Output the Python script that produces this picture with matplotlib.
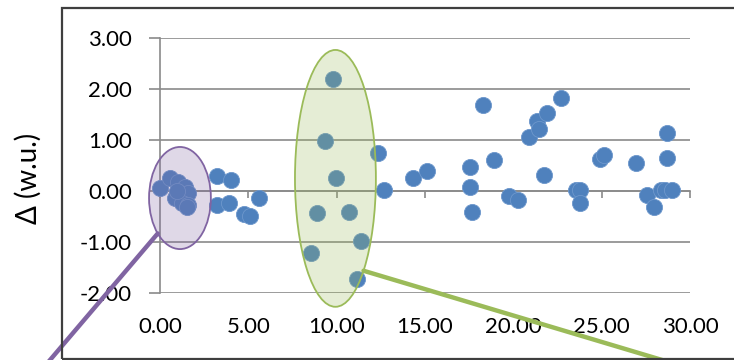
import numpy as np
import matplotlib.pyplot as plt
from matplotlib.colors import to_rgb
from matplotlib.patches import Ellipse, Rectangle

plt.rcParams['font.family'] = ['Lato', 'DejaVu Sans']

# Measured deviations
x_vals = [0.00, 0.57, 1.04, 1.41, 1.60, 0.85, 1.23, 1.60, 0.94, 1.50,
          3.20, 4.02, 3.25, 3.92, 4.77, 5.09, 5.62,
          9.77, 9.32, 9.94, 8.90, 10.72, 11.38, 8.53, 11.13,
          12.36, 12.68, 14.34, 15.09,
          18.30, 17.55, 17.55, 17.64, 18.92, 19.77, 20.28, 20.90, 21.32,
          21.47, 21.89, 22.68, 21.74, 23.55, 23.77, 23.77,
          24.90, 25.13, 26.94, 28.71, 28.71, 27.55, 27.96, 28.34, 28.60, 28.96]
y_vals = [0.05, 0.25, 0.18, 0.08, -0.05, -0.14, -0.24, -0.27, -0.01, -0.32,
          0.29, 0.22, -0.27, -0.23, -0.46, -0.49, -0.13,
          2.19, 0.98, 0.26, -0.44, -0.41, -0.98, -1.21, -1.73,
          0.75, 0.02, 0.25, 0.39,
          1.68, 0.46, 0.07, -0.42, 0.61, -0.10, -0.18, 1.06, 1.36,
          1.21, 1.52, 1.81, 0.31, 0.02, 0.02, -0.23,
          0.62, 0.70, 0.54, 1.14, 0.65, -0.08, -0.32, 0.02, 0.02, 0.02]

x_ticks = [0, 5, 10, 15, 20, 25, 30]
y_ticks = [-2, -1, 0, 1, 2, 3]

# highlighted groups: (center x, center y, width, height, colour)
groups = [
    (1.13, -0.14, 3.5, 2.0, '#8064a2'),
    (9.93, 0.245, 4.58, 5.03, '#9bbb59'),
]
# angle on the ellipse where the callout leaves, and where it ends (figure px)
callouts = [(224, (33, 380)), (-46, (729, 380))]

W, H = 734, 360
fig = plt.figure(figsize=(W / 100, H / 100), dpi=100)

# outer frame
fig.patches.append(Rectangle((62 / W, 1.5 / H), 1.2, (H - 9) / H,
                             transform=fig.transFigure, fill=False,
                             ec='#3f3f3f', lw=1.6))

ax = fig.add_axes([160 / W, 1 - 293 / H, 530 / W, 255.3 / H])
grid_c = '#8a8a8a'

ax.scatter(x_vals, y_vals, s=135, color='#4f81bd', edgecolors='#6d97cc',
           linewidths=0.6, zorder=3, clip_on=False)

for (cx, cy, w, h, c), (ang, end) in zip(groups, callouts):
    ax.add_patch(Ellipse((cx, cy), w, h, facecolor=(*to_rgb(c), 0.25),
                         edgecolor=c, lw=1.3, zorder=4, clip_on=False))
    t = np.deg2rad(ang)
    sx, sy = cx + w / 2 * np.cos(t), cy + h / 2 * np.sin(t)
    ax.annotate('', xy=(sx, sy), xycoords='data',
                xytext=(end[0] / W, 1 - end[1] / H), textcoords='figure fraction',
                arrowprops=dict(arrowstyle='-', color=c, lw=3.2,
                                shrinkA=0, shrinkB=0),
                annotation_clip=False, zorder=5)

ax.set_xlim(0, 30)
ax.set_ylim(-2, 3)

for s in ['top', 'right']:
    ax.spines[s].set_visible(False)
ax.spines['left'].set_color(grid_c)
ax.spines['left'].set_linewidth(1.2)
ax.spines['bottom'].set_position(('data', 0))
ax.spines['bottom'].set_color(grid_c)
ax.spines['bottom'].set_linewidth(1.2)

ax.set_yticks(y_ticks, [f'{v:.2f}' for v in y_ticks])
ax.set_xticks(x_ticks)
ax.tick_params(axis='y', direction='out', length=8, width=1.2, color=grid_c,
               pad=12, labelsize=16)
ax.tick_params(axis='x', direction='out', length=5, width=1.2, color=grid_c,
               labelbottom=False)
ax.yaxis.grid(True, color=grid_c, lw=1.2)
ax.set_axisbelow(True)

sec = ax.secondary_xaxis('bottom')
sec.spines['bottom'].set_visible(False)
sec.set_xticks(x_ticks, [f'{v:.2f}' for v in x_ticks])
sec.tick_params(length=0, pad=17, labelsize=16)

fig.text(28 / W, 1 - 178 / H, 'Δ (w.u.)', rotation=90, ha='center',
         va='center', fontsize=20)

fig.savefig('out.png', dpi=100)
